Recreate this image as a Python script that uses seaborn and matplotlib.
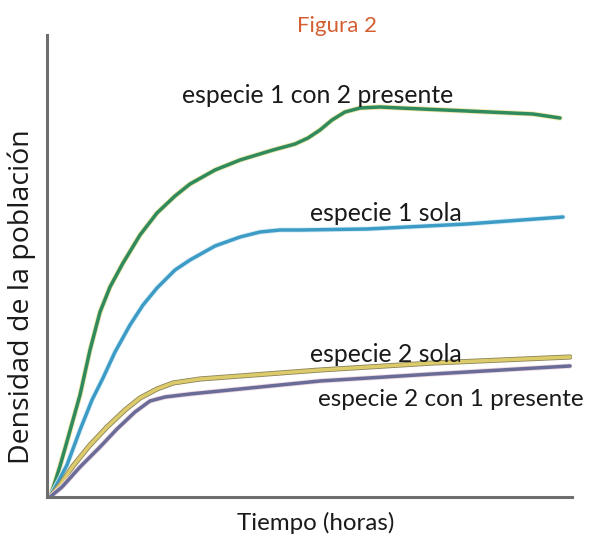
import matplotlib
matplotlib.use("Agg")
import matplotlib.pyplot as plt
import matplotlib.patheffects as pe
import seaborn as sns

# valores (unidades arbitrarias, sin escala en los ejes)
t_s1_con_s2 = [0, 5, 10, 16, 23, 30, 40, 50, 60, 73, 90, 107, 125, 140, 165, 190, 223, 245, 258, 270,
               282, 295, 310, 330, 350, 417, 483, 510]
d_s1_con_s2 = [0, 15, 31, 52, 77, 102, 147, 185, 210, 234, 262, 284, 301, 313, 327, 337, 347, 353, 359, 367,
               377, 385, 389, 390, 389, 386, 383, 379]

t_s1_sola = [0, 8, 17, 30, 42, 53, 65, 80, 93, 107, 125, 140, 165, 190, 210, 230, 250, 317, 417, 513]
d_s1_sola = [0, 15, 32, 67, 97, 119, 145, 172, 192, 209, 227, 237, 251, 260, 265, 267, 267, 268, 273, 280]

t_s2_sola = [0, 10, 23, 40, 57, 75, 90, 107, 123, 150, 190, 270, 383, 520]
d_s2_sola = [0, 12, 31, 52, 70, 87, 99, 108, 114, 118, 121, 127, 134, 140]

t_s2_con_s1 = [0, 12, 30, 50, 67, 85, 100, 115, 140, 190, 270, 383, 520]
d_s2_con_s1 = [0, 10, 30, 50, 68, 85, 96, 100, 103, 108, 116, 123, 131]

series = [
    ("especie 1 con 2 presente", t_s1_con_s2, d_s1_con_s2, "#2f8a5e", "#efe6a8"),
    ("especie 1 sola", t_s1_sola, d_s1_sola, "#3d9cc6", "#d9edf5"),
    ("especie 2 sola", t_s2_sola, d_s2_sola, "#dccb6a", "#8c8358"),
    ("especie 2 con 1 presente", t_s2_con_s1, d_s2_con_s1, "#6a6c98", "#eed8e2"),
]

sns.set_style("white")
plt.rcParams["font.family"] = ["Lato", "DejaVu Sans"]

fig = plt.figure(figsize=(5.93, 5.40), dpi=100)
ax = fig.add_axes([47 / 593, 43 / 540, 525 / 593, 462 / 540])

for name, t, d, col, halo in series:
    sns.lineplot(x=t, y=d, ax=ax, color=col, linewidth=2.5,
                 path_effects=[pe.Stroke(linewidth=3.7, foreground=halo), pe.Normal()])

ax.set_xlim(-3, 522)
ax.set_ylim(0, 462)
ax.set_xticks([])
ax.set_yticks([])
for s in ["top", "right"]:
    ax.spines[s].set_visible(False)
for s in ["left", "bottom"]:
    ax.spines[s].set_color("#6e6e6e")
    ax.spines[s].set_linewidth(2.2)

ax.text(132, 402, "especie 1 con 2 presente", fontsize=17.8, ha="left", va="center", color="#1a1a1a")
ax.text(260, 284, "especie 1 sola", fontsize=17.8, ha="left", va="center", color="#1a1a1a")
ax.text(260, 143, "especie 2 sola", fontsize=17.8, ha="left", va="center", color="#1a1a1a")
ax.text(268, 97, "especie 2 con 1 presente", fontsize=17.5, ha="left", va="center", color="#1a1a1a",
        clip_on=False)

ax.set_xlabel("Tiempo (horas)", fontsize=17.4, color="#1a1a1a", va="center", ha="center")
ax.set_ylabel("Densidad de la población", fontsize=20.5, color="#1a1a1a", va="center", ha="center",
              family=["Open Sans", "DejaVu Sans"])
ax.xaxis.set_label_coords(0.512, -0.057)
ax.yaxis.set_label_coords(-0.048, 0.433)
fig.text(337 / 593, 1 - 26 / 540, "Figura 2", fontsize=16, color="#d35f33", ha="center", va="center")

fig.savefig("out.png", dpi=100)
